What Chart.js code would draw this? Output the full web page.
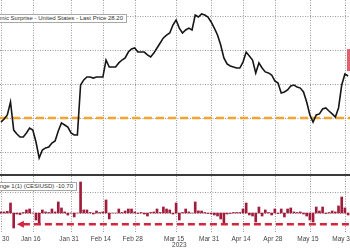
<!DOCTYPE html>
<html>
<head>
<meta charset="utf-8">
<script src="https://cdn.jsdelivr.net/npm/chart.js@4.4.0/dist/chart.umd.min.js"></script>
<style>
  html, body { margin: 0; padding: 0; background: #fff; overflow: hidden; }
  #wrap { position: relative; width: 350px; height: 250px; overflow: hidden; font-family: "Liberation Sans", Arial, sans-serif; }
  canvas { position: absolute; left: 0; }
  #top { top: 0; }
  #bot { top: 176px; }
  #sep { position: absolute; left: 0; top: 174px; width: 350px; height: 2px; background: #3a3a3a; }
  .leg { position: absolute; white-space: nowrap; background: #fff; border: 1px solid #a8a8a8;
         font-size: 6px; line-height: 7px; color: #333; padding: 0 3px; }
</style>
</head>
<body>
<div id="wrap">
  <canvas id="top" width="350" height="174"></canvas>
  <div id="sep"></div>
  <canvas id="bot" width="350" height="74"></canvas>
  <div class="leg" id="legTop" style="right:223px; top:14px"></div>
  <div class="leg" id="legBot" style="right:273px; top:182px"></div>
</div>
<script>
// x positions are weekday numbers counted from Dec 30 2022
const tickDays = [0, 10, 22, 32, 42, 55, 66, 76, 86, 97, 108];
const tickLabels = ["Dec 30", "Jan 16", "Jan 31", "Feb 14", "Feb 28", "Mar 15", "Mar 31", "Apr 14", "Apr 28", "May 15", "May 31"];
const yearLabel = "2023";
const yearDay = 56;

const topName = "Citi Economic Surprise - United States - Last Price";
const lastPrice = 28.20;
const botName = "Net Change 1(1) (CESIUSD)";
const lastChange = -10.70;
const refLevel = 0;
const arrowDay = 5;

const topGrid = [-20, 0, 20, 40, 60];
const botGrid = [0, 20];

// surprise index, one value per weekday
const surprise = [
  -2.4, -0.6, 1.8, 9.4, -7.1, -9.4, -11.2, -11.2, -8.8, -5.9,
  -7.1, -14.1, -23.5, -18.8, -17.6, -17.1, -14.7, -13.5, -7.6, -2.9,
  -4.1, -5.3, -8.8, -10, -10, 19.4, 22.4, 24.1, 24.1, 23.5,
  24.1, 24.1, 24.1, 34.1, 30, 30, 30, 32.4, 34.1, 35.3,
  38.8, 40.6, 41.2, 38.8, 38.8, 38.8, 37.1, 35.9, 38.2, 41.2,
  44.1, 47.1, 48.8, 50, 54.7, 57.6, 52.9, 50, 51.8, 52.9,
  51.8, 60.6, 59.4, 61.2, 60.6, 59.4, 56.5, 52.9, 48.8, 42.9,
  35.3, 31.8, 30.6, 30, 29.4, 29.4, 32.9, 38.8, 36.5, 34.1,
  26.5, 32.4, 29.4, 27.1, 26.5, 25.3, 21.8, 20.6, 14.7, 15.3,
  16.5, 18.8, 19.4, 18.2, 17.6, 15.3, 9.4, 1.8, -2.4, 1.8,
  2.4, 5.3, 5.9, 4.1, 2.4, 0.6, 5.9, 19.4, 25.9, 24.7
];

// daily change bars
const dailyChange = [
  1, 1, 1.5, 9.5, -14.3, -1, -1.5, 0.5, 2.9, 3.8,
  0, -6.7, -9.5, 2.9, 1, 0.5, 3.8, 1, 10.5, 4.8,
  1, -2, 0, -3.8, 0, 29.5, 2.9, 2.9, 0.5, -1,
  1.9, 0.5, 1, 12.4, -5.7, 0, 0, 3.8, 0.5, 1.9,
  3.8, 3.8, 1, -0.5, 0.5, -1, -2.9, 0.5, 1, 3.8,
  0.5, 5.7, 3.8, 2.9, -1, 9.5, -6.7, 0.5, 3.8, 1,
  0, 10.5, 2, 1.9, 0.5, -0.5, -1, -1.9, -2.9, -5.7,
  -9.5, -1, -0.5, 0.5, 0.5, 0.5, 3.8, 9.5, -1.9, -2.9,
  -8.6, 5.7, -2.9, 2.9, 0.5, -1.9, 3.8, -0.5, 3.8, -3.8,
  3.8, 4.8, 1, 0.5, 1, -1, -2.9, -6.7, -8.6, 5.7,
  1.9, 5.7, -0.5, 0.5, 1.9, 1, 6.7, 15.2, 4.8, -1.9
];

document.getElementById("legTop").textContent = topName + " " + lastPrice.toFixed(2);
document.getElementById("legBot").textContent = botName + " " + lastChange.toFixed(2);

const gridColor = "#9a9a9a";

function xScale() {
  return {
    type: "linear", min: -0.3, max: 109.6, offset: false,
    ticks: { display: false },
    grid: { display: false, drawTicks: false, offset: false },
    border: { display: false }
  };
}

function yScale(min, max) {
  return {
    min: min, max: max,
    ticks: { display: false },
    grid: { display: false, drawTicks: false },
    border: { display: false }
  };
}

// dotted grid at the tick days and the grid levels, placed by the scales
function dottedGrid(levels) {
  return {
    id: "dottedGrid",
    beforeDatasetsDraw(chart) {
      const { ctx, chartArea, scales } = chart;
      ctx.save();
      ctx.strokeStyle = gridColor;
      ctx.lineWidth = 1;
      ctx.setLineDash([1, 1.5]);
      ctx.beginPath();
      tickDays.forEach(d => {
        const x = Math.round(scales.x.getPixelForValue(d)) + 0.5;
        ctx.moveTo(x, chartArea.top);
        ctx.lineTo(x, chartArea.bottom);
      });
      levels.forEach(v => {
        const y = Math.round(scales.y.getPixelForValue(v)) + 0.5;
        ctx.moveTo(chartArea.left, y);
        ctx.lineTo(chartArea.right, y);
      });
      ctx.stroke();
      ctx.restore();
    }
  };
}

// orange reference line and last price tag
const topDeco = {
  id: "topDeco",
  beforeDatasetsDraw(chart) {
    const { ctx, chartArea, scales } = chart;
    const y = scales.y.getPixelForValue(refLevel);
    ctx.save();
    ctx.strokeStyle = "#f2a42e";
    ctx.lineWidth = 2.5;
    ctx.setLineDash([8, 4]);
    ctx.beginPath();
    ctx.moveTo(chartArea.left, y);
    ctx.lineTo(chartArea.right, y);
    ctx.stroke();
    ctx.restore();
  },
  afterDatasetsDraw(chart) {
    const { ctx, chartArea, scales } = chart;
    const y = scales.y.getPixelForValue(lastPrice);
    ctx.save();
    ctx.fillStyle = "#e0606e";
    ctx.fillRect(chartArea.right - 3, y - 21, 10, 22);
    ctx.restore();
  }
};

// last-value dashed line with arrow, tick labels
const botDeco = {
  id: "botDeco",
  afterDatasetsDraw(chart) {
    const { ctx, chartArea, scales } = chart;
    const y = scales.y.getPixelForValue(lastChange);
    const x0 = scales.x.getPixelForValue(arrowDay);
    ctx.save();
    ctx.fillStyle = "#d3263c";
    ctx.beginPath();
    ctx.moveTo(x0, y);
    ctx.lineTo(x0 + 7, y - 3.5);
    ctx.lineTo(x0 + 7, y + 3.5);
    ctx.closePath();
    ctx.fill();
    ctx.strokeStyle = "#d3263c";
    ctx.lineWidth = 2.5;
    ctx.setLineDash([7, 4]);
    ctx.beginPath();
    ctx.moveTo(x0 + 6, y);
    ctx.lineTo(chartArea.right, y);
    ctx.stroke();
    ctx.setLineDash([]);

    ctx.fillStyle = "#444";
    ctx.font = "6.5px 'Liberation Sans', Arial, sans-serif";
    ctx.textAlign = "center";
    ctx.textBaseline = "middle";
    tickDays.forEach((d, i) => {
      ctx.fillText(tickLabels[i], scales.x.getPixelForValue(d) - 2, chartArea.bottom + 7);
    });
    ctx.fillText(yearLabel, scales.x.getPixelForValue(yearDay), chartArea.bottom + 13);
    ctx.restore();
  }
};

const common = {
  responsive: false,
  animation: false,
  devicePixelRatio: 1,
  layout: { padding: 0 },
  plugins: { legend: { display: false }, tooltip: { enabled: false } }
};

new Chart(document.getElementById("top"), {
  type: "line",
  data: {
    datasets: [{
      data: surprise.map((v, i) => ({ x: i, y: v })),
      borderColor: "#161616",
      borderWidth: 1.6,
      pointRadius: 0,
      tension: 0
    }]
  },
  options: Object.assign({}, common, {
    scales: { x: xScale(), y: yScale(-32.94, 69.41) }
  }),
  plugins: [dottedGrid(topGrid), topDeco]
});

new Chart(document.getElementById("bot"), {
  type: "bar",
  data: {
    datasets: [{
      data: dailyChange.map((v, i) => ({ x: i, y: v })),
      backgroundColor: "#a01c3c",
      barThickness: 2
    }]
  },
  options: Object.assign({}, common, {
    layout: { padding: { bottom: 18 } },
    scales: { x: xScale(), y: yScale(-18.1, 35.2) }
  }),
  plugins: [dottedGrid(botGrid), botDeco]
});
</script>
</body>
</html>
